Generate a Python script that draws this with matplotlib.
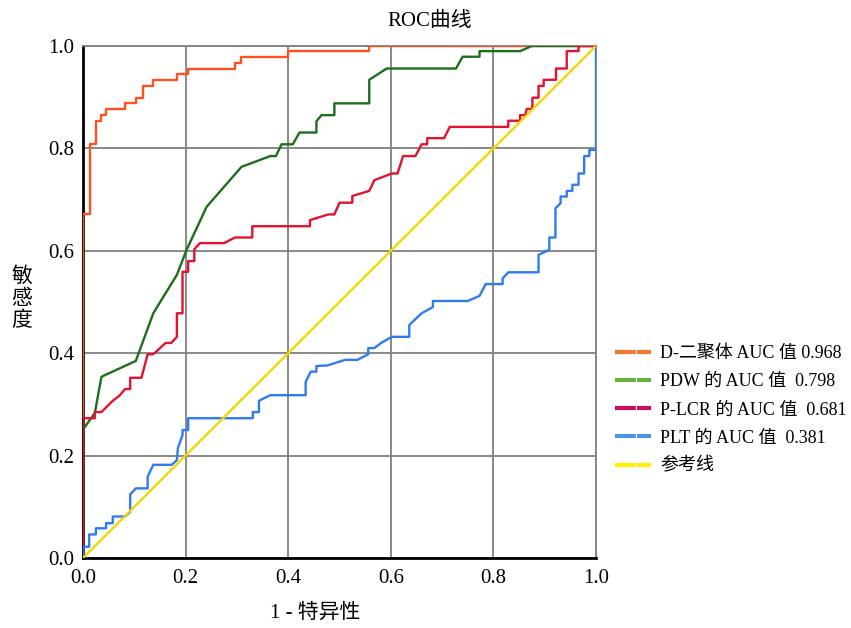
import matplotlib
matplotlib.use('Agg')
import matplotlib.pyplot as plt
from matplotlib.lines import Line2D

plt.rcParams['font.family'] = ['Liberation Serif', 'Noto Sans CJK SC']

# ROC curve vertices (1 - specificity, sensitivity)
ddimer_x = [0, 0, 0.0136, 0.0136, 0.025, 0.025, 0.035, 0.035, 0.045, 0.045, 0.081, 0.081,
            0.103, 0.103, 0.116, 0.116, 0.137, 0.137, 0.184, 0.184, 0.204, 0.204, 0.296, 0.296,
            0.308, 0.308, 0.399, 0.399, 0.558, 0.558, 1.0]
ddimer_y = [0, 0.672, 0.672, 0.808, 0.808, 0.853, 0.853, 0.865, 0.865, 0.876, 0.876, 0.888,
            0.888, 0.899, 0.899, 0.922, 0.922, 0.933, 0.933, 0.945, 0.945, 0.956, 0.956, 0.967,
            0.967, 0.979, 0.979, 0.990, 0.990, 1.0, 1.0]

pdw_x = [0, 0, 0.023, 0.036, 0.103, 0.137, 0.183, 0.202, 0.241, 0.309, 0.365, 0.376, 0.387,
         0.409, 0.422, 0.455, 0.455, 0.465, 0.49, 0.49, 0.558, 0.558, 0.592, 0.727, 0.740,
         0.773, 0.773, 0.852, 0.875, 1.0]
pdw_y = [0, 0.251, 0.283, 0.354, 0.385, 0.478, 0.553, 0.602, 0.686, 0.764, 0.785, 0.785, 0.808,
         0.808, 0.831, 0.831, 0.853, 0.865, 0.865, 0.888, 0.888, 0.934, 0.956, 0.956, 0.979,
         0.979, 0.990, 0.990, 1.0, 1.0]

plcr_x = [0, 0, 0.023, 0.023, 0.036, 0.058, 0.071, 0.082, 0.092, 0.092, 0.114, 0.126, 0.137,
          0.161, 0.172, 0.183, 0.183, 0.194, 0.194, 0.205, 0.205, 0.217, 0.217, 0.228, 0.275,
          0.296, 0.33, 0.33, 0.4425, 0.4425, 0.478, 0.49, 0.5, 0.525, 0.525, 0.558, 0.568,
          0.602, 0.613, 0.624, 0.648, 0.660, 0.671, 0.671, 0.704, 0.715, 0.829, 0.829, 0.852,
          0.852, 0.862, 0.865, 0.876, 0.876, 0.888, 0.888, 0.898, 0.898, 0.922, 0.922, 0.943,
          0.943, 0.966, 0.966, 1.0]
plcr_y = [0, 0.273, 0.273, 0.285, 0.285, 0.307, 0.317, 0.33, 0.33, 0.352, 0.352, 0.398, 0.398,
          0.42, 0.42, 0.432, 0.478, 0.478, 0.559, 0.559, 0.58, 0.58, 0.603, 0.615, 0.615,
          0.626, 0.626, 0.648, 0.648, 0.66, 0.671, 0.671, 0.694, 0.694, 0.707, 0.717, 0.738,
          0.751, 0.751, 0.785, 0.785, 0.808, 0.808, 0.82, 0.82, 0.842, 0.842, 0.854, 0.854,
          0.865, 0.865, 0.877, 0.877, 0.899, 0.899, 0.922, 0.922, 0.934, 0.934, 0.956, 0.956,
          0.99, 0.99, 1.0, 1.0]

plt_x = [0, 0, 0.012, 0.012, 0.025, 0.025, 0.045, 0.045, 0.058, 0.058, 0.082, 0.092, 0.092,
         0.103, 0.126, 0.126, 0.137, 0.173, 0.183, 0.185, 0.194, 0.194, 0.205, 0.205, 0.331,
         0.331, 0.343, 0.343, 0.365, 0.434, 0.434, 0.444, 0.455, 0.455, 0.476, 0.511, 0.535,
         0.556, 0.556, 0.568, 0.581, 0.602, 0.636, 0.636, 0.66, 0.682, 0.682, 0.75, 0.773,
         0.785, 0.818, 0.818, 0.829, 0.888, 0.888, 0.909, 0.909, 0.921, 0.921, 0.931, 0.931,
         0.943, 0.943, 0.954, 0.954, 0.966, 0.966, 0.977, 0.977, 0.987, 0.987, 1.0, 1.0]
plt_y = [0, 0.022, 0.022, 0.046, 0.046, 0.058, 0.058, 0.068, 0.068, 0.081, 0.081, 0.09, 0.124,
         0.136, 0.136, 0.159, 0.182, 0.182, 0.191, 0.215, 0.24, 0.25, 0.25, 0.273, 0.273,
         0.285, 0.285, 0.307, 0.318, 0.318, 0.344, 0.364, 0.364, 0.375, 0.376, 0.387, 0.387,
         0.398, 0.41, 0.41, 0.42, 0.432, 0.432, 0.455, 0.478, 0.49, 0.502, 0.502, 0.512,
         0.535, 0.535, 0.546, 0.558, 0.558, 0.592, 0.602, 0.626, 0.626, 0.683, 0.693, 0.706,
         0.706, 0.717, 0.717, 0.729, 0.729, 0.751, 0.751, 0.785, 0.785, 0.797, 0.797, 1.0]

ref_x = [0, 1]
ref_y = [0, 1]

labels = ['D-二聚体 AUC 值 0.968', 'PDW 的 AUC 值  0.798', 'P-LCR 的 AUC 值  0.681',
          'PLT 的 AUC 值  0.381', '参考线']
line_colors = ['#FF5020', '#1C6E1C', '#E3122F', '#2F7BEF', '#F0D800']
legend_colors = ['#F07A32', '#6AB040', '#C8105C', '#4F94DC', '#FFF000']

fig = plt.figure(figsize=(8.51, 6.28), dpi=100)
ax = fig.add_axes([83 / 851, 1 - 558 / 628, 513 / 851, 512 / 628])

curves = [(ddimer_x, ddimer_y), (pdw_x, pdw_y), (plcr_x, plcr_y), (plt_x, plt_y), (ref_x, ref_y)]
for (xs, ys), c in zip(curves, line_colors):
    ax.plot(xs, ys, color=c, linewidth=1.7, zorder=3)

ax.set_xlim(0, 1)
ax.set_ylim(0, 1)
ax.set_xticks([0, 0.2, 0.4, 0.6, 0.8, 1.0])
ax.set_yticks([0, 0.2, 0.4, 0.6, 0.8, 1.0])
ax.set_xticklabels(['0.0', '0.2', '0.4', '0.6', '0.8', '1.0'])
ax.set_yticklabels(['0.0', '0.2', '0.4', '0.6', '0.8', '1.0'])
ax.tick_params(length=0, labelsize=15)
ax.tick_params(axis='x', pad=8)
ax.tick_params(axis='y', pad=6)
ax.grid(True, color='#808080', linewidth=1.3, zorder=1)
ax.set_axisbelow(True)
for side in ['top', 'right']:
    ax.spines[side].set_color('#808080')
    ax.spines[side].set_linewidth(1.3)
for side in ['left', 'bottom']:
    ax.spines[side].set_color('black')
    ax.spines[side].set_linewidth(2)

fig.text(0.505, 0.966, 'ROC曲线', ha='center', va='center', fontsize=15)
fig.text(315 / 851, 1 - 613 / 628, '1 - 特异性', ha='center', va='center', fontsize=15)
fig.text(22 / 851, 1 - 299 / 628, '敏\n感\n度', ha='center', va='center', fontsize=15,
         linespacing=1.2)

handles = [Line2D([0], [0], color=c, linewidth=3, linestyle=(0, (5, 0.3))) for c in legend_colors]
fig.legend(handles, labels, loc='upper left', bbox_to_anchor=(615 / 851, 1 - 345 / 628),
           frameon=False, fontsize=13, handlelength=2.0, handletextpad=0.5,
           labelspacing=0.62, borderaxespad=0, borderpad=0)

fig.savefig('out.png', dpi=100)
